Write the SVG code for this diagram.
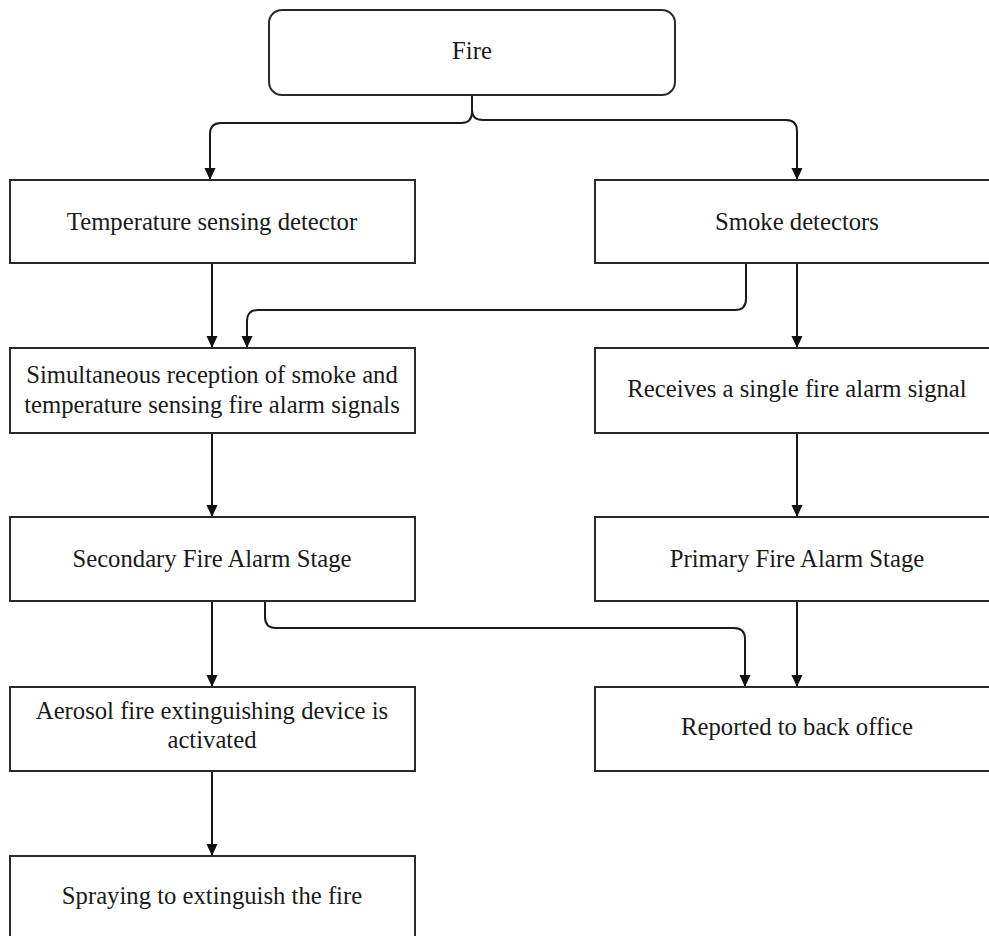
<svg xmlns="http://www.w3.org/2000/svg" width="989" height="936" viewBox="0 0 989 936">
<style>
.box{fill:#fff;stroke:#2a2a2a;stroke-width:2}
.t{font-family:"Liberation Serif","Times New Roman",serif;font-size:24.7px;fill:#1a1a1a;text-anchor:middle}
.c{fill:none;stroke:#1a1a1a;stroke-width:2}
</style>
<defs>
<marker id="a" markerUnits="userSpaceOnUse" markerWidth="12" markerHeight="13" refX="13" refY="6" orient="auto" viewBox="0 0 13 12">
<path d="M0,0 L13,6 L0,12 z" fill="#111"/>
</marker>
</defs>
<rect width="989" height="936" fill="#fff"/>
<g id="connectors">
<path class="c" marker-end="url(#a)" d="M472,95 V112 Q472,123 461,123 H221 Q210,123 210,134 V180"/>
<path class="c" marker-end="url(#a)" d="M472,110 Q472,120 483,120 H786 Q797,120 797,131 V180"/>
<path class="c" marker-end="url(#a)" d="M212,263 V348"/>
<path class="c" marker-end="url(#a)" d="M746,263 V299 Q746,310 735,310 H258 Q247,310 247,321 V348"/>
<path class="c" marker-end="url(#a)" d="M797,263 V348"/>
<path class="c" marker-end="url(#a)" d="M212,433 V517"/>
<path class="c" marker-end="url(#a)" d="M797,433 V517"/>
<path class="c" marker-end="url(#a)" d="M212,601 V687"/>
<path class="c" marker-end="url(#a)" d="M265,601 V617 Q265,628 276,628 H734 Q745,628 745,639 V687"/>
<path class="c" marker-end="url(#a)" d="M797,601 V687"/>
<path class="c" marker-end="url(#a)" d="M212,771 V856"/>
</g>
<g id="fire"><rect class="box" x="269" y="10" width="406" height="85" rx="13"/><text class="t" x="472" y="59">Fire</text></g>
<g id="temp"><rect class="box" x="10" y="180" width="405" height="83"/><text class="t" x="212" y="230">Temperature sensing detector</text></g>
<g id="smoke"><rect class="box" x="595" y="180" width="400" height="83"/><text class="t" x="797" y="230">Smoke detectors</text></g>
<g id="simul"><rect class="box" x="10" y="348" width="405" height="85"/><text class="t" x="212" y="383">Simultaneous reception of smoke and</text><text class="t" x="212" y="413">temperature sensing fire alarm signals</text></g>
<g id="single"><rect class="box" x="595" y="348" width="400" height="85"/><text class="t" x="797" y="397">Receives a single fire alarm signal</text></g>
<g id="secondary"><rect class="box" x="10" y="517" width="405" height="84"/><text class="t" x="212" y="567">Secondary Fire Alarm Stage</text></g>
<g id="primary"><rect class="box" x="595" y="517" width="400" height="84"/><text class="t" x="797" y="567">Primary Fire Alarm Stage</text></g>
<g id="aerosol"><rect class="box" x="10" y="687" width="405" height="84"/><text class="t" x="212" y="719">Aerosol fire extinguishing device is</text><text class="t" x="212" y="748">activated</text></g>
<g id="reported"><rect class="box" x="595" y="687" width="400" height="84"/><text class="t" x="797" y="735">Reported to back office</text></g>
<g id="spraying"><rect class="box" x="10" y="856" width="405" height="100"/><text class="t" x="212" y="904">Spraying to extinguish the fire</text></g>
</svg>
